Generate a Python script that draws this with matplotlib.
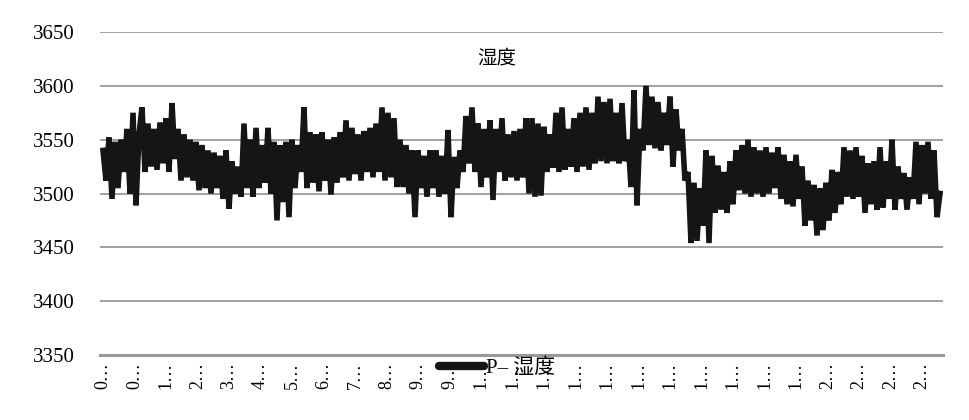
import numpy as np
import matplotlib
matplotlib.use('Agg')
import matplotlib.pyplot as plt

plt.rcParams['font.family'] = ['Liberation Serif', 'Noto Sans CJK SC', 'DejaVu Sans']

# humidity readings (approx.)
humidity = [
    3540, 3512, 3552, 3495, 3548, 3505, 3550, 3520, 3560, 3500,
    3575, 3489, 3555, 3580, 3520, 3565, 3525, 3560, 3522, 3566,
    3528, 3570, 3520, 3584, 3532, 3560, 3512, 3555, 3515, 3550,
    3512, 3548, 3503, 3545, 3505, 3540, 3500, 3538, 3505, 3535,
    3495, 3540, 3486, 3530, 3500, 3525, 3497, 3565, 3505, 3550,
    3497, 3561, 3505, 3545, 3510, 3561, 3500, 3548, 3475, 3545,
    3492, 3548, 3478, 3550, 3505, 3545, 3520, 3580, 3505, 3557,
    3510, 3555, 3502, 3557, 3512, 3550, 3499, 3552, 3510, 3557,
    3515, 3568, 3512, 3561, 3518, 3555, 3512, 3558, 3520, 3561,
    3515, 3565, 3520, 3580, 3512, 3575, 3515, 3570, 3506, 3550,
    3506, 3545, 3500, 3540, 3478, 3540, 3505, 3535, 3497, 3540,
    3505, 3540, 3497, 3535, 3500, 3559, 3478, 3534, 3505, 3540,
    3520, 3572, 3528, 3580, 3520, 3565, 3506, 3560, 3515, 3568,
    3494, 3560, 3520, 3570, 3512, 3555, 3515, 3558, 3512, 3560,
    3515, 3570, 3500, 3570, 3497, 3565, 3498, 3562, 3520, 3555,
    3524, 3575, 3520, 3580, 3522, 3560, 3525, 3570, 3520, 3575,
    3525, 3580, 3522, 3575, 3528, 3590, 3530, 3585, 3528, 3588,
    3530, 3575, 3528, 3584, 3530, 3550, 3506, 3596, 3489, 3560,
    3540, 3600, 3545, 3590, 3542, 3585, 3540, 3575, 3545, 3590,
    3525, 3578, 3540, 3560, 3512, 3520, 3454, 3510, 3456, 3505,
    3470, 3540, 3454, 3535, 3482, 3526, 3485, 3520, 3482, 3530,
    3490, 3540, 3503, 3545, 3500, 3550, 3497, 3543, 3500, 3540,
    3497, 3543, 3500, 3538, 3505, 3543, 3495, 3536, 3490, 3530,
    3488, 3536, 3495, 3525, 3470, 3512, 3475, 3508, 3461, 3505,
    3466, 3510, 3475, 3522, 3482, 3520, 3490, 3543, 3497, 3540,
    3495, 3543, 3497, 3535, 3482, 3528, 3490, 3530, 3485, 3543,
    3487, 3530, 3495, 3550, 3485, 3525, 3495, 3519, 3485, 3515,
    3495, 3548, 3490, 3545, 3500, 3548, 3495, 3540, 3478, 3500,
]

# truncated category labels, as shown on the axis
xlabels = ['0…', '0…', '1…', '2…', '3…', '4…', '5…', '6…', '7…', '8…',
           '9…', '9…'] + ['1…'] * 11 + ['2…'] * 4
label_step = 10.5

yticks = [3350, 3400, 3450, 3500, 3550, 3600, 3650]

fig = plt.figure(figsize=(9.69, 4.2), dpi=100)
ax = fig.add_axes([100 / 969, 1 - 355 / 420, 843 / 969, 323 / 420])

x = np.arange(len(humidity))
ax.plot(x, humidity, color='#151515', lw=4.0, solid_joinstyle='bevel',
        label='P– 湿度')

ax.set_ylim(3350, 3650)
ax.set_xlim(-1, len(humidity))
ax.set_yticks(yticks)
ax.set_yticklabels([str(v) for v in yticks], fontsize=15)
ax.yaxis.grid(True, color='#a0a0a0', lw=1.4)
ax.set_axisbelow(True)
for s in ['top', 'right', 'left']:
    ax.spines[s].set_visible(False)
ax.spines['bottom'].set_color('#999999')
ax.spines['bottom'].set_linewidth(2.2)

ticks = np.arange(len(xlabels)) * label_step
ax.set_xticks(ticks)
ax.set_xticklabels(xlabels, rotation=90, fontsize=13, va='top', ha='center')
ax.tick_params(axis='both', length=0)
ax.tick_params(axis='y', pad=18)
ax.tick_params(axis='x', pad=5)

ax.text(0.471, 0.92, '湿度', transform=ax.transAxes, ha='center', va='center',
        fontsize=14, family=['Noto Sans CJK SC'])

leg = ax.legend(loc='center', bbox_to_anchor=(0.471, -0.04), frameon=False,
                handlelength=2.2, handletextpad=0.1,
                prop={'family': ['Liberation Serif', 'Noto Sans CJK SC'], 'size': 15})
for h in leg.get_lines():
    h.set_linewidth(6)
    h.set_solid_capstyle('round')

fig.savefig('out.png', dpi=100)
